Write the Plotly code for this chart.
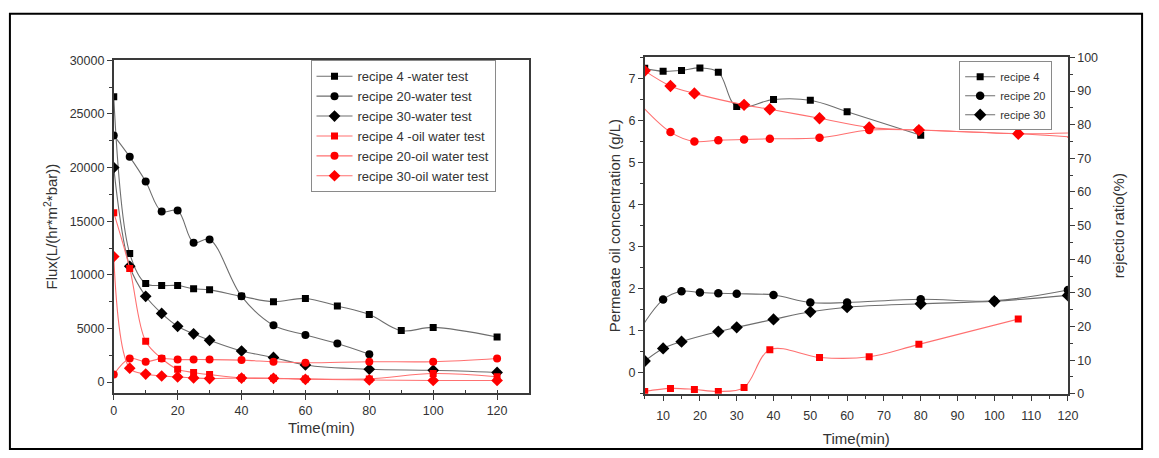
import plotly.graph_objects as go

# ---------------- Flux vs time (left panel) ----------------
flux_t_r4w = [0, 5, 10, 15, 20, 25, 30, 40, 50, 60, 70, 80, 90, 100, 120]
flux_r4w = [26600, 12000, 9200, 9000, 9000, 8700, 8600, 8000, 7500, 7800, 7100, 6300, 4800, 5100, 4200]

flux_t_r20w = [0, 5, 10, 15, 20, 25, 30, 40, 50, 60, 70, 80]
flux_r20w = [23000, 21000, 18700, 15900, 16000, 13000, 13300, 8000, 5300, 4400, 3600, 2600]

flux_t_r30w = [0, 5, 10, 15, 20, 25, 30, 40, 50, 60, 80, 100, 120]
flux_r30w = [20000, 10800, 8000, 6400, 5200, 4500, 3900, 2900, 2300, 1600, 1200, 1100, 900]

flux_t_r4o = [0, 5, 10, 15, 20, 25, 30, 40, 50, 60, 80, 100, 120]
flux_r4o = [15800, 10600, 3800, 2200, 1200, 900, 700, 380, 350, 300, 300, 800, 500]

flux_t_r20o = [0, 5, 10, 15, 20, 25, 30, 40, 50, 60, 80, 100, 120]
flux_r20o = [700, 2200, 1900, 2200, 2100, 2100, 2100, 2050, 1900, 1800, 1900, 1900, 2200]

flux_t_r30o = [0, 5, 10, 15, 20, 25, 30, 40, 50, 60, 80, 100, 120]
flux_r30o = [11700, 1300, 750, 570, 480, 390, 330, 380, 350, 260, 200, 150, 150]

# ---------------- Permeate concentration / rejection (right panel) ----------------
conc_t_r4 = [5, 10, 15, 20, 25, 30, 40, 50, 60, 80]
conc_r4 = [7.24, 7.17, 7.19, 7.25, 7.15, 6.33, 6.50, 6.48, 6.21, 5.65]

conc_t_r20 = [3, 10, 15, 20, 25, 30, 40, 50, 60, 80, 100, 120]
conc_r20 = [0.93, 1.74, 1.94, 1.91, 1.89, 1.88, 1.85, 1.67, 1.67, 1.75, 1.71, 1.97]

conc_t_r30 = [5, 10, 15, 25, 30, 40, 50, 60, 80, 100, 120]
conc_r30 = [0.28, 0.58, 0.74, 0.98, 1.08, 1.27, 1.45, 1.56, 1.64, 1.70, 1.84]

rej_t_r4 = [5, 12, 18.5, 25, 32, 39, 52.5, 66, 79.5, 106.5]
rej_r4 = [0.7, 1.6, 1.3, 0.7, 1.9, 13.1, 10.8, 11.0, 14.7, 22.2]

rej_t_r20 = [3, 12, 18.5, 25, 32, 39, 52.5, 66, 79.5, 106.5, 121.5]
rej_r20 = [87.0, 77.8, 75.0, 75.4, 75.6, 75.8, 76.1, 78.4, 78.4, 77.3, 77.6]

rej_t_r30 = [5, 12, 18.5, 32, 39, 52.5, 66, 79.5, 106.5, 121.5]
rej_r30 = [96.0, 91.5, 89.3, 85.9, 84.6, 81.9, 79.2, 78.4, 77.3, 76.3]

FONT = "Liberation Sans, Arial, sans-serif"
BLACK_LINE = "#6e6e6e"
RED_LINE = "#ff7070"
RED = "#ff0000"
AX = "#3a3a3a"

W, H = 1159, 458

fig = go.Figure()


def add(x, y, name, symbol, size, color, line_color, xaxis, yaxis, legend=None, show=True):
    fig.add_trace(go.Scatter(
        x=x, y=y, name=name, mode="lines+markers",
        line=dict(shape="spline", smoothing=1.0, color=line_color, width=1.1),
        marker=dict(symbol=symbol, size=size, color=color),
        xaxis=xaxis, yaxis=yaxis,
        legend=legend, showlegend=show,
    ))


# left panel traces
add(flux_t_r4w, flux_r4w, "recipe 4 -water test", "square", 7, "black", BLACK_LINE, "x", "y", "legend")
add(flux_t_r20w, flux_r20w, "recipe 20-water test", "circle", 8, "black", BLACK_LINE, "x", "y", "legend")
add(flux_t_r30w, flux_r30w, "recipe 30-water test", "diamond", 9, "black", BLACK_LINE, "x", "y", "legend")
add(flux_t_r4o, flux_r4o, "recipe 4 -oil water test", "square", 7, RED, RED_LINE, "x", "y", "legend")
add(flux_t_r20o, flux_r20o, "recipe 20-oil water test", "circle", 8, RED, RED_LINE, "x", "y", "legend")
add(flux_t_r30o, flux_r30o, "recipe 30-oil water test", "diamond", 9, RED, RED_LINE, "x", "y", "legend")

# right panel traces: concentration (left axis) and rejection (right axis)
add(conc_t_r4, conc_r4, "recipe 4", "square", 7, "black", BLACK_LINE, "x2", "y3", "legend2")
add(conc_t_r20, conc_r20, "recipe 20", "circle", 8.5, "black", BLACK_LINE, "x2", "y3", "legend2")
add(conc_t_r30, conc_r30, "recipe 30", "diamond", 9.5, "black", BLACK_LINE, "x2", "y3", "legend2")
add(rej_t_r4, rej_r4, "recipe 4 rejection", "square", 7, RED, RED_LINE, "x2", "y4", show=False)
add(rej_t_r20, rej_r20, "recipe 20 rejection", "circle", 8.5, RED, RED_LINE, "x2", "y4", show=False)
add(rej_t_r30, rej_r30, "recipe 30 rejection", "diamond", 9.5, RED, RED_LINE, "x2", "y4", show=False)

tickfont = dict(family=FONT, size=12.5, color="#333")
titlefont = dict(family=FONT, size=15, color="#333")
axis_common = dict(
    showline=True, linecolor=AX, linewidth=1.6, showgrid=False, zeroline=False,
    ticks="outside", ticklen=5, tickwidth=1.2, tickcolor=AX, tickfont=tickfont,
)

fig.update_layout(
    width=W, height=H,
    margin=dict(l=0, r=0, t=0, b=0),
    paper_bgcolor="white", plot_bgcolor="white",
    font=dict(family=FONT, color="#333"),
    xaxis=dict(
        domain=[112 / W, 532 / W], anchor="y", range=[0, 130], dtick=20, tick0=0,
        mirror=True, title=dict(text="Time(min)", font=titlefont, standoff=6),
        minor=dict(dtick=10, ticks="inside", ticklen=3, tickcolor=AX),
        **axis_common,
    ),
    yaxis=dict(
        domain=[1 - 398 / H, 1 - 55 / H], anchor="x", range=[-1000, 30000], dtick=5000, tick0=0,
        tickformat="d",
        mirror=True, title=dict(text="Flux(L/(hr*m<sup>2</sup>*bar))", font=titlefont, standoff=8),
        minor=dict(dtick=2500, ticks="outside", ticklen=3, tickcolor=AX),
        **axis_common,
    ),
    xaxis2=dict(
        domain=[649 / W, 1077 / W], anchor="y3", range=[5, 120], dtick=10, tick0=0,
        mirror=True, title=dict(text="Time(min)", font=titlefont, standoff=12),
        ticklabelstandoff=4,
        minor=dict(dtick=5, ticks="outside", ticklen=3, tickcolor=AX),
        **axis_common,
    ),
    yaxis3=dict(
        domain=[1 - 399 / H, 1 - 52 / H], anchor="x2", range=[-0.5, 7.5], dtick=1, tick0=0,
        title=dict(text="Permeate oil concentration (g/L)", font=titlefont, standoff=4),
        minor=dict(dtick=0.5, ticks="outside", ticklen=3, tickcolor=AX),
        **axis_common,
    ),
    yaxis4=dict(
        overlaying="y3", side="right", anchor="x2", range=[0, 100], dtick=10, tick0=0,
        title=dict(text="rejectio ratio(%)", font=titlefont, standoff=16),
        minor=dict(dtick=5, ticks="outside", ticklen=3, tickcolor=AX),
        **axis_common,
    ),
    legend=dict(
        x=311 / W, y=1 - 55 / H, xanchor="left", yanchor="top",
        bgcolor="white", bordercolor="#8a8a8a", borderwidth=1,
        font=dict(family=FONT, size=13, color="#333"),
        tracegroupgap=0, itemwidth=36,
    ),
    legend2=dict(
        x=967 / W, y=1 - 56 / H, xanchor="left", yanchor="top",
        bgcolor="white", bordercolor="#8a8a8a", borderwidth=1,
        font=dict(family=FONT, size=11, color="#333"),
        tracegroupgap=0, itemwidth=30,
    ),
    shapes=[dict(
        type="rect", xref="paper", yref="paper",
        x0=7 / W, x1=1152 / W, y0=1 - 456 / H, y1=1 - 7 / H,
        line=dict(color="black", width=2), fillcolor="rgba(0,0,0,0)", layer="below",
    )],
)

fig.write_html("out.html")
